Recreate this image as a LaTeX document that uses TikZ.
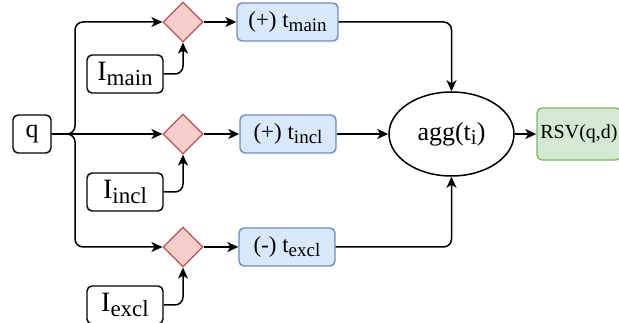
\documentclass[tikz,border=0pt]{standalone}
\usepackage{fontspec}
\setmainfont{Liberation Serif}
\usepackage{tikz}
\usetikzlibrary{shapes.geometric, positioning, arrows.meta}
\definecolor{termfill}{HTML}{DAE8FC}
\definecolor{termline}{HTML}{6C8EBF}
\definecolor{gatefill}{HTML}{F8CECC}
\definecolor{gateline}{HTML}{B85450}
\definecolor{outfill}{HTML}{D5E8D4}
\definecolor{outline}{HTML}{82B366}
\tikzstyle{arrow} = [line width=1.5pt,-{Stealth[length=11pt,width=10pt,inset=3pt]}]
\tikzstyle{plain} = [draw, line width=1.4pt, rounded corners=5pt, inner sep=1pt, minimum height=38pt, font=\fontsize{23}{26}\selectfont]
\tikzstyle{term} = [plain, fill=termfill, draw=termline]
\tikzstyle{gate} = [diamond, draw=gateline, fill=gatefill, line width=1.2pt, minimum width=40pt, minimum height=40pt, inner sep=0pt, aspect=1]
\newcommand{\lo}[2][19]{\raisebox{-0.4ex}{\fontsize{#1}{#1}\selectfont #2}}

\begin{document}
\begin{tikzpicture}[x=1pt, y=-1pt]
        \useasboundingbox (0, 0) rectangle (619, 323);
        \node[plain, minimum width=38pt, font=\fontsize{26}{28}\selectfont] (q) at (32, 134) {q};
        \coordinate (split) at (75, 134);
        \node[gate] (d1) at (183, 22) {};
        \node[gate] (d2) at (183, 134) {};
        \node[gate] (d3) at (183, 247) {};
        \node[plain, minimum width=76pt, font=\fontsize{28}{30}\selectfont] (Im) at (125, 74) {I\lo[23]{main}};
        \node[plain, minimum width=76pt, font=\fontsize{28}{30}\selectfont] (Ii) at (125, 192) {I\lo[23]{incl}};
        \node[plain, minimum width=76pt, font=\fontsize{28}{30}\selectfont] (Ie) at (125, 305) {I\lo[23]{excl}};
        \node[term, minimum width=101pt] (tm) at (287.5, 22) {(+) t\lo{main}};
        \node[term, minimum width=96pt] (ti) at (288, 134) {(+) t\lo{incl}};
        \node[term, minimum width=96pt] (te) at (287, 247) {(-) t\lo{excl}};
        \node[ellipse, draw, line width=1.5pt, minimum width=125pt, minimum height=84pt, font=\fontsize{26}{28}\selectfont] (agg) at (451.5, 134) {agg(t\lo[21]{i})};
        \node[plain, fill=outfill, draw=outline, minimum width=84pt, minimum height=52pt, font=\fontsize{20}{24}\selectfont] (rsv) at (579, 134) {RSV(q,d)};
        \draw[arrow, rounded corners=8pt] (q.east) -- (split) |- (d1.west);
        \draw[arrow] (q.east) -- (d2.west);
        \draw[arrow, rounded corners=8pt] (q.east) -- (split) |- (d3.west);
        \draw[arrow, rounded corners=8pt] (Im.east) -| (d1.south);
        \draw[arrow, rounded corners=8pt] (Ii.east) -| (d2.south);
        \draw[arrow, rounded corners=8pt] (Ie.east) -| (d3.south);
        \draw[arrow] (d1.east) -- (tm.west);
        \draw[arrow] (d2.east) -- (ti.west);
        \draw[arrow] (d3.east) -- (te.west);
        \draw[arrow, rounded corners=8pt] (tm.east) -| (agg.north);
        \draw[arrow] (ti.east) -- (agg.west);
        \draw[arrow, rounded corners=8pt] (te.east) -| (agg.south);
        \draw[arrow] (agg.east) -- (rsv.west);
\end{tikzpicture}
\end{document}
